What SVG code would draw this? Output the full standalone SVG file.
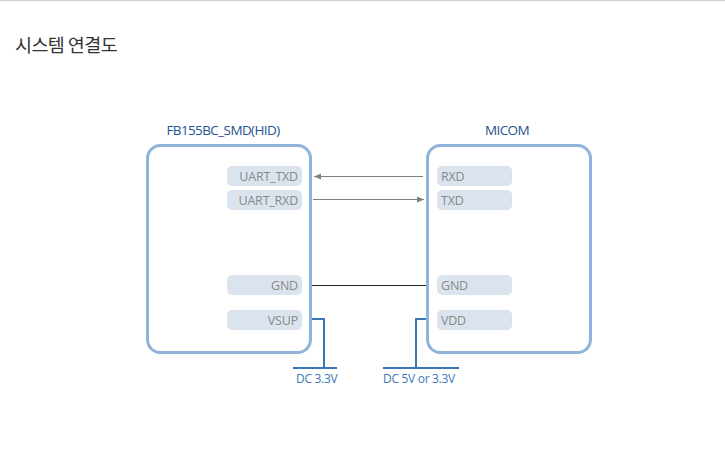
<svg xmlns="http://www.w3.org/2000/svg" width="725" height="452" viewBox="0 0 725 452">
<style>
.box{fill:#fff;stroke:#8fb3da;stroke-width:3}
.pill{fill:#dbe4ee}
.pt{font-family:"Open Sans","Noto Sans",sans-serif;font-size:12.5px;fill:#888;letter-spacing:-0.2px}
.hd{font-family:"Open Sans","Noto Sans",sans-serif;font-size:13.5px;fill:#24548f;letter-spacing:-0.6px}
.dc{font-family:"Open Sans","Noto Sans",sans-serif;font-size:12px;fill:#3b76b8;letter-spacing:-0.3px}
.arr{stroke:#808080;stroke-width:1;fill:none}
.pw{stroke:#3b76b8;stroke-width:2;fill:none}
</style>
<defs>
<marker id="ah" viewBox="0 0 8 8" refX="7" refY="4" markerWidth="8" markerHeight="8" markerUnits="userSpaceOnUse" orient="auto">
<path d="M0,1 L7,4 L0,7 Z" fill="#808080"/>
</marker>
</defs>
<rect x="0" y="0" width="725" height="452" fill="#fff"/>
<line x1="0" y1="0.5" x2="725" y2="0.5" stroke="#d4d4d4" stroke-width="1.5"/>
<text x="15" y="52" font-family="'Noto Sans CJK KR','Noto Sans',sans-serif" font-size="18.5" font-weight="normal" fill="#333" letter-spacing="-0.6">시스템 연결도</text>
<g id="connectors">
<line class="arr" x1="423" y1="176.5" x2="314" y2="176.5" marker-end="url(#ah)"/>
<line class="arr" x1="313" y1="199.5" x2="424" y2="199.5" marker-end="url(#ah)"/>
<line x1="312" y1="285.5" x2="426" y2="285.5" stroke="#222" stroke-width="1"/>
<polyline class="pw" points="311,319 324,319 324,368"/>
<line class="pw" x1="293" y1="368" x2="337" y2="368"/>
<polyline class="pw" points="427,319 416,319 416,368"/>
<line class="pw" x1="383" y1="368" x2="459" y2="368"/>
</g>
<g id="node-fb155bc">
<text class="hd" x="223" y="135" text-anchor="middle">FB155BC_SMD(HID)</text>
<rect class="box" x="147.5" y="145.5" width="163" height="207" rx="13"/>
<rect class="pill" x="227" y="166" width="75" height="20" rx="5"/>
<text class="pt" x="298" y="181" text-anchor="end">UART_TXD</text>
<rect class="pill" x="227" y="190" width="75" height="20" rx="5"/>
<text class="pt" x="298" y="205" text-anchor="end">UART_RXD</text>
<rect class="pill" x="227" y="275" width="75" height="20" rx="5"/>
<text class="pt" x="298" y="290" text-anchor="end">GND</text>
<rect class="pill" x="227" y="310" width="75" height="20" rx="5"/>
<text class="pt" x="298" y="325" text-anchor="end">VSUP</text>
</g>
<g id="node-micom">
<text class="hd" x="507" y="135" text-anchor="middle">MICOM</text>
<rect class="box" x="427.5" y="145.5" width="163" height="207" rx="13"/>
<rect class="pill" x="437" y="166" width="75" height="20" rx="5"/>
<text class="pt" x="441" y="181">RXD</text>
<rect class="pill" x="437" y="190" width="75" height="20" rx="5"/>
<text class="pt" x="441" y="205">TXD</text>
<rect class="pill" x="437" y="275" width="75" height="20" rx="5"/>
<text class="pt" x="441" y="290">GND</text>
<rect class="pill" x="437" y="310" width="75" height="20" rx="5"/>
<text class="pt" x="441" y="325">VDD</text>
</g>
<g id="node-dc33">
<text class="dc" x="296" y="383">DC 3.3V</text>
</g>
<g id="node-dc5">
<text class="dc" x="383" y="383">DC 5V or 3.3V</text>
</g>
</svg>
